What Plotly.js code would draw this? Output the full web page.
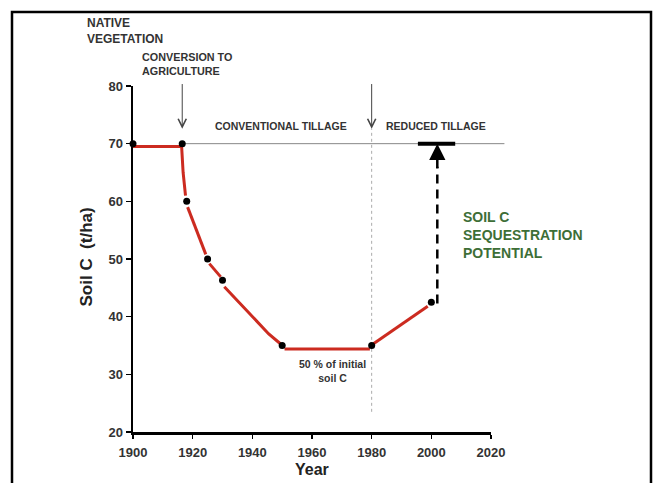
<!DOCTYPE html>
<html>
<head>
<meta charset="utf-8">
<script src="https://cdn.plot.ly/plotly-3.0.1.min.js"></script>
<style>html,body{margin:0;padding:0;background:#fff;}#chart{width:657px;height:483px;}</style>
</head>
<body>
<div id="chart"></div>
<script>
// Measured points (black dots)
const pointYears = [1900, 1916.5, 1918, 1925, 1930, 1950, 1980, 2000];
const pointSoilC = [70, 70, 60, 50, 46.3, 35, 35, 42.5];

// Red trend curve (drawn with small gaps near the dots)
const curveYears = [1900, 1916.3, 1916.8, 1917.6, null, 1918.3, 1924.4, null, 1925.6, 1929.4, null, 1930.6, 1945.5, 1949.4, null, 1950.8, 1979.4, null, 1980.6, 1998.8];
const curveSoilC = [69.5, 69.5, 65, 61, null, 59, 50.8, null, 49.2, 46.9, null, 45.2, 37, 35.3, null, 34.4, 34.4, null, 35.3, 41.8];

const xTicks = [1900, 1920, 1940, 1960, 1980, 2000, 2020];
const yTicks = [20, 30, 40, 50, 60, 70, 80];

const initialC = 70;
const conversionYear = 1916.5;
const reducedTillageYear = 1980;
const potentialYear = 2002;

const xMin = 1900, xMax = 2020, yMin = 20, yMax = 80;
const px = v => (v - xMin) / (xMax - xMin);
const py = v => (v - yMin) / (yMax - yMin);

const FONT = 'Liberation Sans, Arial, sans-serif';
const TXT = '#333';

const traces = [
  {x: curveYears, y: curveSoilC, mode: 'lines', line: {color: '#cc2b20', width: 3}, connectgaps: false, hoverinfo: 'skip', cliponaxis: false},
  {x: pointYears, y: pointSoilC, mode: 'markers', marker: {color: '#000', size: 7}, cliponaxis: false}
];

const ann = (x, y, text, opts) => Object.assign({x: x, y: y, xref: 'x', yref: 'y', text: text, showarrow: false,
  font: {family: FONT, size: 10.5, color: TXT, weight: 'bold'}}, opts || {});

const layout = {
  width: 657, height: 483,
  margin: {l: 133, r: 166, t: 86, b: 51, pad: 0},
  paper_bgcolor: '#fff', plot_bgcolor: '#fff',
  showlegend: false,
  xaxis: {range: [xMin, xMax], tickvals: xTicks, ticktext: xTicks.map(String), showgrid: false, zeroline: false,
    showline: true, linecolor: '#000', linewidth: 2.5, ticks: 'outside', ticklen: 4, tickwidth: 1.5, tickcolor: '#000',
    tickfont: {family: FONT, size: 13, color: TXT, weight: 'bold'}, ticklabelstandoff: 3, fixedrange: true},
  yaxis: {range: [yMin, yMax], tickvals: yTicks, ticktext: yTicks.map(String), showgrid: false, zeroline: false,
    showline: true, linecolor: '#000', linewidth: 2.5, ticks: 'outside', ticklen: 5, tickwidth: 1.5, tickcolor: '#000',
    tickfont: {family: FONT, size: 13, color: TXT, weight: 'bold'}, fixedrange: true},
  shapes: [
    // outer frame
    {type: 'path', xref: 'paper', yref: 'paper',
      path: 'M ' + (-121/358) + ',' + (-0.3) + ' L ' + (-121/358) + ',' + (420/346) + ' L ' + (518/358) + ',' + (420/346) + ' L ' + (518/358) + ',' + (-0.3),
      line: {color: '#000', width: 2.5}},
    // initial level reference line
    {type: 'line', xref: 'paper', yref: 'paper', x0: px(conversionYear), x1: px(2024.5), y0: py(initialC), y1: py(initialC),
      line: {color: '#888', width: 1}, layer: 'below'},
    // dotted vertical line at 1980
    {type: 'line', xref: 'x', yref: 'y', x0: reducedTillageYear, x1: reducedTillageYear, y0: 23.5, y1: 72.6,
      line: {color: '#aaa', width: 1, dash: 'dot'}, layer: 'below'},
    // dashed potential arrow shaft
    {type: 'line', xref: 'x', yref: 'y', x0: potentialYear, x1: potentialYear, y0: 42.3, y1: 66,
      line: {color: '#000', width: 2.5, dash: '9px,6px'}},
    // thick bar at initial level
    {type: 'line', xref: 'x', yref: 'y', x0: 1995.5, x1: 2008, y0: initialC, y1: initialC,
      line: {color: '#000', width: 4}}
  ],
  annotations: [
    {x: conversionYear, y: 72.6, ax: conversionYear, ay: 80.6, xref: 'x', yref: 'y', axref: 'x', ayref: 'y', text: '',
      showarrow: true, arrowhead: 5, arrowsize: 1.6, arrowwidth: 1, arrowcolor: '#444'},
    {x: reducedTillageYear, y: 72.6, ax: reducedTillageYear, ay: 80.6, xref: 'x', yref: 'y', axref: 'x', ayref: 'y', text: '',
      showarrow: true, arrowhead: 5, arrowsize: 1.6, arrowwidth: 1, arrowcolor: '#444'},
    {x: potentialYear, y: 70, ax: potentialYear, ay: 65.5, xref: 'x', yref: 'y', axref: 'x', ayref: 'y', text: '',
      showarrow: true, arrowhead: 2, arrowsize: 1.3, arrowwidth: 2.5, arrowcolor: '#000'},
    {x: -48/358, y: (432 - 31.5) / 346, xref: 'paper', yref: 'paper', xanchor: 'left', yanchor: 'middle', align: 'left', showarrow: false,
      text: 'NATIVE<br>VEGETATION', font: {family: FONT, size: 12, color: TXT, weight: 'bold'}},
    {x: 7/358, y: (432 - 64) / 346, xref: 'paper', yref: 'paper', xanchor: 'left', yanchor: 'middle', align: 'left', showarrow: false,
      text: 'CONVERSION TO<br>AGRICULTURE', font: {family: FONT, size: 10.8, color: TXT, weight: 'bold'}},
    ann(1949.5, 73.1, 'CONVENTIONAL TILLAGE'),
    ann(2001.7, 73.1, 'REDUCED TILLAGE'),
    ann(2010.1, 54.2, 'SOIL C<br>SEQUESTRATION<br>POTENTIAL', {xanchor: 'left', align: 'left',
      font: {family: FONT, size: 14, color: '#3d6e36', weight: 'bold'}}),
    ann(1966.8, 30.6, '50 % of initial<br>soil C', {font: {family: FONT, size: 10.5, color: TXT, weight: 'bold'}}),
    {x: -47/358, y: (432 - 257.5) / 346, xref: 'paper', yref: 'paper', xanchor: 'center', yanchor: 'middle', text: 'Soil C  (t/ha)', textangle: -90, showarrow: false,
      font: {family: FONT, size: 17, color: '#222', weight: 'bold'}},
    {x: px(1960), y: -27/346, xref: 'paper', yref: 'paper', xanchor: 'center', yanchor: 'top', text: 'Year', showarrow: false,
      font: {family: FONT, size: 16, color: '#222', weight: 'bold'}}
  ]
};

Plotly.newPlot('chart', traces, layout, {displayModeBar: false, staticPlot: true});
</script>
</body>
</html>
